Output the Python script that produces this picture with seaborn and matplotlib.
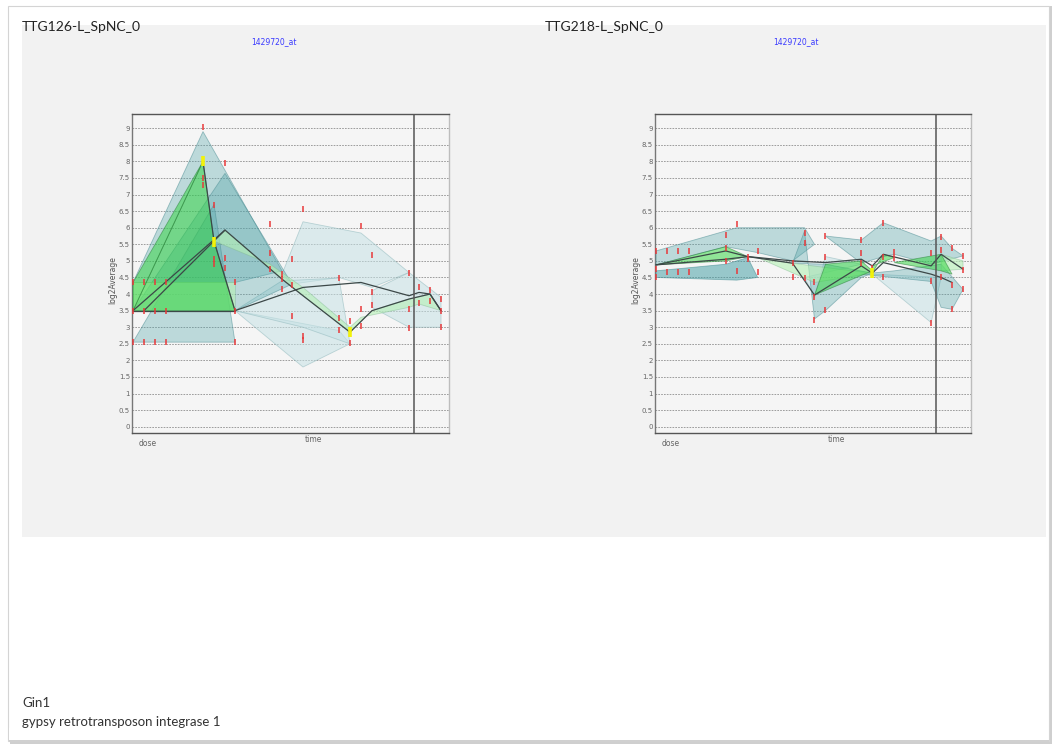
import matplotlib
matplotlib.use("Agg")
import matplotlib.pyplot as plt
import matplotlib.patches as mpatches
import seaborn as sns
import pandas as pd
import numpy as np

# ---------------- data ----------------
# x positions of the 20 measurement columns (dose x4, then 4 time groups x4)
X_POS = [1, 12, 23, 34, 71, 82, 93, 103, 138, 150, 160, 171,
         207, 218, 229, 240, 277, 287, 298, 309]
Y_TICKS = [i * 0.5 for i in range(19)]
Y_TICK_LABELS = ["0", "0.5", "1", "1.5", "2", "2.5", "3", "3.5", "4", "4.5",
                 "5", "5.5", "6", "6.5", "7", "7.5", "8", "8.5", "9"]
TITLES = ["TTG126-L_SpNC_0", "TTG218-L_SpNC_0"]
PROBE = "1429720_at"
GENE = "Gin1"
GENE_DESC = "gypsy retrotransposon integrase 1"

# ---- left panel: shaded ranges (column index, value) ----
L_TEAL = [
    ([0, 4, 9, 7], [4.35, 8.9, 4.7, 4.35]),
    ([0, 6, 10, 7], [3.5, 7.64, 4.3, 3.5]),
    ([0, 5, 7], [2.55, 6.7, 2.55]),
]
L_LIGHT = [
    ([7, 11, 13, 12, 8], [3.5, 1.8, 2.5, 2.9, 3.3]),
    ([9, 11, 14, 16, 15, 12, 10], [4.6, 6.18, 5.84, 4.65, 4.2, 4.5, 4.3]),
    ([15, 16, 19, 19, 16, 15], [4.1, 4.65, 3.9, 3.0, 3.0, 3.6]),
    ([7, 9, 12, 13, 11], [3.5, 4.4, 4.48, 2.5, 3.0]),
]
L_GREEN = [
    ([0, 4, 5, 7], [3.5, 8.0, 5.6, 3.5]),
    ([0, 4, 0], [3.5, 8.0, 4.35]),
]
L_PALE = [
    ([0, 0, 7, 7], [3.5, 4.35, 4.35, 3.5]),
    ([5, 6, 9, 11, 13, 15, 16, 18, 19, 17, 16, 14, 13, 11, 8],
     [5.6, 5.93, 4.45, 3.95, 2.85, 3.5, 3.85, 4.0, 3.5, 3.7, 3.6, 3.3, 3.0, 4.2, 4.9]),
]
L_LINES = [
    ([7, 11, 14, 16, 17, 18, 19], [3.5, 4.2, 4.35, 3.95, 4.05, 4.0, 3.5]),
    ([0, 6, 9, 11, 13, 15, 16, 18, 19], [3.5, 5.93, 4.45, 3.95, 2.85, 3.5, 3.85, 4.0, 3.5]),
    ([1, 5, 6], [3.5, 5.6, 5.93]),
    ([4, 5, 7], [8.0, 5.6, 3.5]),
    ([0, 7], [3.5, 3.5]),
]
L_RED = [
    [4.35, 3.5, 2.55], [4.35, 3.5, 2.55], [4.35, 3.5, 2.55], [4.35, 3.5, 2.55],
    [9.05, 7.5, 7.3], [6.7, 5.06, 4.9], [7.95, 5.08, 4.79], [4.35, 3.5, 2.55],
    [6.1, 5.25, 4.75], [4.6, 4.45, 4.15], [5.06, 4.27, 3.34], [6.56, 2.75, 2.6],
    [4.48, 3.28, 2.92], [3.2, 2.52], [6.05, 3.55, 3.05], [5.18, 4.07, 3.67],
    [4.63, 3.55, 2.99], [4.22, 3.73], [4.12, 3.8], [3.85, 3.5, 3.0],
]
L_YELLOW = ([4, 5, 13], [8.0, 5.58, 2.85])

# ---- right panel ----
R_TEAL = [
    ([0, 5, 9, 10, 8, 7, 4, 0], [5.3, 6.0, 6.0, 5.5, 5.0, 5.25, 5.43, 4.88]),
    ([8, 9, 10, 11, 12, 13, 11], [4.93, 5.9, 3.25, 3.5, 4.5, 4.63, 4.9]),
    ([11, 12, 14, 16, 17, 18, 19, 16, 15, 14, 12],
     [5.75, 5.63, 6.15, 5.6, 5.75, 5.38, 5.15, 4.9, 5.2, 5.13, 4.93]),
    ([12, 16, 17, 18, 19, 17, 15], [4.6, 4.38, 3.6, 3.54, 4.14, 4.9, 4.7]),
]
R_DARKTEAL = [
    ([0, 5, 7, 6, 4, 0], [4.5, 4.42, 4.5, 5.1, 4.9, 4.7]),
]
R_LIGHT = [
    ([13, 16, 17], [4.6, 3.14, 4.5]),
    ([9, 10, 11, 12], [4.5, 3.9, 5.13, 4.9]),
]
R_GREEN = [
    ([0, 4, 6, 4], [4.88, 5.43, 5.13, 5.0]),
    ([10, 11, 12, 13], [3.97, 4.9, 5.0, 4.7]),
    ([13, 14, 15, 13], [4.63, 5.2, 5.1, 4.85]),
    ([15, 17, 18, 17], [4.95, 5.2, 4.6, 4.7]),
]
R_PALE = [
    ([7, 10, 13, 11, 8], [5.1, 4.35, 4.63, 4.8, 4.93]),
    ([17, 19, 19, 17], [4.7, 4.75, 5.0, 5.2]),
]
R_LINES = [
    ([0, 4, 6, 8, 10, 12, 13, 14, 16, 17, 18],
     [4.88, 5.05, 5.13, 4.93, 3.97, 4.85, 4.63, 4.95, 4.6, 4.5, 4.35]),
    ([0, 4, 6, 8, 11, 12, 13, 14, 16, 17, 19],
     [4.88, 5.3, 5.13, 5.0, 4.95, 5.05, 4.85, 5.2, 4.85, 5.2, 4.75]),
]
R_RED = [
    [5.3, 4.75, 4.5], [5.3, 4.66], [5.3, 4.66], [5.3, 4.66],
    [5.78, 5.38, 5.0], [6.11, 4.7], [5.13, 5.05], [5.3, 4.66],
    [4.93, 4.52], [5.83, 5.54, 4.47], [4.35, 3.92, 3.21], [5.75, 5.13, 3.52],
    [5.63, 5.23, 4.93], [4.8], [6.15, 5.13, 4.52], [5.28, 5.08],
    [5.23, 4.38, 3.14], [5.73, 5.33, 4.52], [5.38, 4.27, 3.54], [5.15, 4.73, 4.14],
]
R_YELLOW = ([13], [4.63])

# ---------------- figure ----------------
sns.set_theme(style="white")
plt.rcParams["font.family"] = ["Lato", "DejaVu Sans"]

W, H = 1063, 746
fig = plt.figure(figsize=(W / 100, H / 100), dpi=100)
fig.patch.set_facecolor("white")


def fx(px):
    return px / W


def fy(py):
    return 1 - py / H


# page border + shadow
fig.patches.append(mpatches.Rectangle((fx(10), fy(744)), fx(1042), 738 / H,
                                      transform=fig.transFigure, facecolor="#cfcfcf",
                                      edgecolor="none", zorder=-3))
fig.patches.append(mpatches.Rectangle((fx(8), fy(741)), fx(1041), 735 / H,
                                      transform=fig.transFigure, facecolor="white",
                                      edgecolor="#d4d4d4", lw=0.8, zorder=-2))
# gray panel
fig.patches.append(mpatches.Rectangle((fx(22), fy(537)), fx(1024), 512 / H,
                                      transform=fig.transFigure, facecolor="#f2f2f2",
                                      edgecolor="none", zorder=-1))

TEAL = "#4fa3a8"
GREEN = "#2cd43a"
PALE = "#b5f0b5"
LIGHT = "#c6e2e5"


def draw_panel(ax, teal, darkteal, light, green, pale, lines, reds, yellow):
    ax.set_facecolor("#f5f5f5")
    ax.set_xlim(0, 317)
    ax.set_ylim(-0.19, 9.43)
    ax.set_yticks(Y_TICKS)
    ax.set_yticklabels(Y_TICK_LABELS)
    ax.set_xticks([])
    ax.tick_params(axis="y", length=0, pad=1.5, labelsize=5, labelcolor="#666")
    for t in ax.get_yticklabels():
        t.set_family("DejaVu Sans")
    ax.grid(axis="y", ls=(0, (2, 1.4)), color="#8f8f8f", lw=0.6)
    ax.set_axisbelow(True)
    for s, c in [("left", "#777777"), ("top", "#555555"), ("right", "#bdbdbd"), ("bottom", "#555555")]:
        ax.spines[s].set_color(c)
        ax.spines[s].set_linewidth(1.0)
    ax.axvline(282, color="#555555", lw=1.1, zorder=6)

    def poly(idx, vals, fc, a, ec, ea, z):
        xs = [X_POS[i] for i in idx]
        ax.fill(xs, vals, facecolor=fc, alpha=a, edgecolor="none", zorder=z)
        ax.fill(xs, vals, facecolor="none", edgecolor=ec, alpha=ea, lw=0.6, zorder=z)

    for idx, vals in light:
        poly(idx, vals, LIGHT, 0.55, "#8fb8bc", 0.55, 2)
    for idx, vals in teal:
        poly(idx, vals, TEAL, 0.34, "#4f8f94", 0.55, 3)
    for idx, vals in darkteal:
        poly(idx, vals, "#3a9aa0", 0.5, "#3f8a8f", 0.55, 3)
    for idx, vals in pale:
        poly(idx, vals, PALE, 0.6, "#7fb88f", 0.45, 3.5)
    for idx, vals in green:
        poly(idx, vals, GREEN, 0.5, "#2a7f3a", 0.55, 4)

    for k, (idx, vals) in enumerate(lines):
        df = pd.DataFrame({"x": [X_POS[i] for i in idx], "y": vals})
        sns.lineplot(data=df, x="x", y="y", sort=False, estimator=None, ax=ax,
                     color="#3c4848", lw=0.9, zorder=5)

    rx, ry = [], []
    for i, vs in enumerate(reds):
        for v in vs:
            rx.append(X_POS[i])
            ry.append(v)
    sns.scatterplot(x=rx, y=ry, marker="|", s=14, color="#e8383a", linewidth=1.1,
                    ax=ax, zorder=7)
    sns.scatterplot(x=[X_POS[i] for i in yellow[0]], y=yellow[1], marker="|", s=45,
                    color="#f2f20a", linewidth=2.6, ax=ax, zorder=8)
    ax.set_xlabel("")
    ax.set_ylabel("")


axL = fig.add_axes([fx(132), fy(433), fx(317), 319 / H])
draw_panel(axL, L_TEAL, [], L_LIGHT, L_GREEN, L_PALE, L_LINES, L_RED, L_YELLOW)
axR = fig.add_axes([fx(655), fy(433), fx(316), 319 / H])
draw_panel(axR, R_TEAL, R_DARKTEAL, R_LIGHT, R_GREEN, R_PALE, R_LINES, R_RED, R_YELLOW)

# texts
for x0, title, xc in [(22, TITLES[0], 274), (545, TITLES[1], 796)]:
    fig.text(fx(x0), fy(21), title, fontsize=10, color="#222222", va="top", ha="left")
    fig.text(fx(xc), fy(42), PROBE, fontsize=5.5, color="#3a3aff", va="center",
             ha="center", family="DejaVu Sans")
for xa in [132, 655]:
    fig.text(fx(xa + 16), fy(444), "dose", fontsize=5.5, color="#666", ha="center",
             va="center", family="DejaVu Sans")
    fig.text(fx(xa + 181), fy(440), "time", fontsize=5.5, color="#666", ha="center",
             va="center", family="DejaVu Sans")
    fig.text(fx(xa - 19), fy(280), "log2Average", fontsize=5.5, color="#555",
             rotation=90, ha="center", va="center", family="DejaVu Sans", zorder=10)

fig.text(fx(22), fy(703), GENE, fontsize=9.5, color="#333333", va="center", ha="left")
fig.text(fx(22), fy(722), GENE_DESC, fontsize=9.5, color="#333333", va="center", ha="left")
# bottom cut of the page
fig.patches.append(mpatches.Rectangle((fx(9), fy(740)), fx(1039), 12 / H,
                                      transform=fig.transFigure, facecolor="white",
                                      edgecolor="none", zorder=10))
fig.patches.append(mpatches.Rectangle((fx(9), fy(742)), fx(1040), 2 / H,
                                      transform=fig.transFigure, facecolor="#d0d0d0",
                                      edgecolor="none", zorder=11))

fig.savefig("out.png", dpi=100)
